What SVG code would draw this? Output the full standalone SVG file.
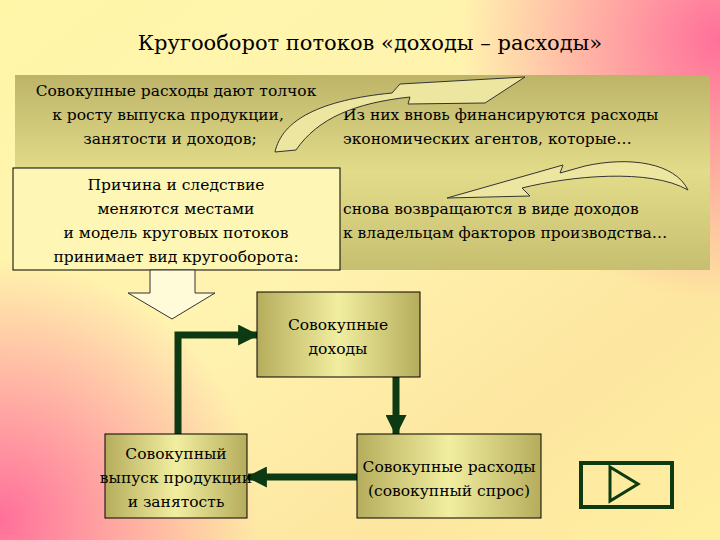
<svg xmlns="http://www.w3.org/2000/svg" width="720" height="540" viewBox="0 0 720 540">
<defs>
<linearGradient id="bg" x1="0" y1="0" x2="1" y2="1">
<stop offset="0" stop-color="#fff6a8"/><stop offset="0.45" stop-color="#fff3b0"/><stop offset="0.75" stop-color="#fde6a0"/><stop offset="1" stop-color="#fff0a0"/>
</linearGradient>
<radialGradient id="pk1" cx="720" cy="40" r="260" gradientUnits="userSpaceOnUse"><stop offset="0" stop-color="#ff6f9a"/><stop offset="1" stop-color="#ff6f9a" stop-opacity="0"/></radialGradient>
<radialGradient id="pk2" cx="0" cy="520" r="260" gradientUnits="userSpaceOnUse"><stop offset="0" stop-color="#ff6f9a"/><stop offset="1" stop-color="#ff6f9a" stop-opacity="0"/></radialGradient>
<linearGradient id="ol" x1="0" y1="0" x2="1" y2="0"><stop offset="0" stop-color="#b5ad5c"/><stop offset="0.5" stop-color="#f2eea0"/><stop offset="1" stop-color="#b5ad5c"/></linearGradient>
<linearGradient id="pan" x1="0" y1="0" x2="0" y2="1"><stop offset="0" stop-color="#bdb468"/><stop offset="0.5" stop-color="#e2dc8a"/><stop offset="1" stop-color="#c7bf70"/></linearGradient>
<marker id="ah" viewBox="0 0 10 10" refX="9" refY="5" markerWidth="3" markerHeight="3" orient="auto"><path d="M0,0L10,5L0,10z" fill="#0d3a12"/></marker>
<style>
.t{font-size:15.5px;text-anchor:middle}
.l{font-size:15.5px}
.box{fill:url(#ol);stroke:#000;stroke-width:1}
.c{fill:none;stroke:#0d3a12;stroke-width:7;marker-end:url(#ah)}
.cur{fill:#ede6a0;stroke:#333;stroke-width:1}
</style>
</defs>
<rect width="720" height="540" fill="url(#bg)"/>
<rect width="720" height="540" fill="url(#pk1)"/>
<rect width="720" height="540" fill="url(#pk2)"/>
<g font-family="'DejaVu Serif', serif" fill="#000">
<text x="370" y="50" font-size="21" text-anchor="middle">Кругооборот потоков «доходы – расходы»</text>
<rect x="15" y="75" width="695" height="195" fill="url(#pan)"/>
<g id="top-left"><text class="t" x="176" y="96">Совокупные расходы дают толчок</text><text class="t" x="168" y="120">к росту выпуска  продукции,</text><text class="t" x="170" y="144">занятости и доходов;</text></g>
<g id="top-right"><text class="l" x="343" y="120">Из них вновь финансируются расходы</text><text class="l" x="343" y="144">экономических агентов, которые…</text></g>
<g id="mid-right"><text class="l" x="343" y="214">снова возвращаются в виде доходов</text><text class="l" x="343" y="238">к владельцам факторов производства…</text></g>
<g id="curve1"><path class="cur" d="M275,152 C282,120 320,100 392,93 L400,84 L525,77 L485,103 L408,104 L410,97 C355,103 318,118 296,150 Z"/></g>
<g id="curve2"><path class="cur" d="M688,190 C675,163 630,156 585,166 L560,173 L563,165 L447,198 L530,196 L522,188 C570,176 650,168 688,190 Z"/></g>
<g id="cause"><rect x="13" y="168" width="327" height="102" fill="#fdf6b4" stroke="#000"/><text class="t" x="176" y="190">Причина и следствие</text><text class="t" x="176" y="214">меняются местами</text><text class="t" x="176" y="238">и модель круговых потоков</text><text class="t" x="176" y="262">принимает вид кругооборота:</text></g>
<g id="down"><path d="M150,270 L195,270 L195,293 L215,293 L172,319 L128,293 L150,293 Z" fill="#fffbd8" stroke="#333"/></g>
<g id="connectors">
<path class="c" d="M178,434 V335 H257"/>
<path class="c" d="M420,335 H396 V434"/>
<path class="c" d="M357,477 H248"/>
</g>
<g id="income"><rect class="box" x="257" y="292" width="163" height="85"/><text class="t" x="338" y="330">Совокупные</text><text class="t" x="338" y="354">доходы</text></g>
<g id="output"><rect class="box" x="105" y="434" width="142" height="84"/><text class="t" x="176" y="459" font-size="14.5">Совокупный</text><text class="t" x="176" y="483" font-size="14.5">выпуск продукции</text><text class="t" x="176" y="507" font-size="14.5">и занятость</text></g>
<g id="spend"><rect class="box" x="357" y="434" width="184" height="84"/><text class="t" x="449" y="472" font-size="14.5">Совокупные расходы</text><text class="t" x="449" y="496" font-size="14.5">(совокупный спрос)</text></g>
</g>
<g id="nav"><rect x="581" y="463" width="91" height="44" fill="none" stroke="#0d3a12" stroke-width="4"/><path d="M610,467 L638,484 L610,501 Z" fill="none" stroke="#0d3a12" stroke-width="3"/></g>
</svg>
